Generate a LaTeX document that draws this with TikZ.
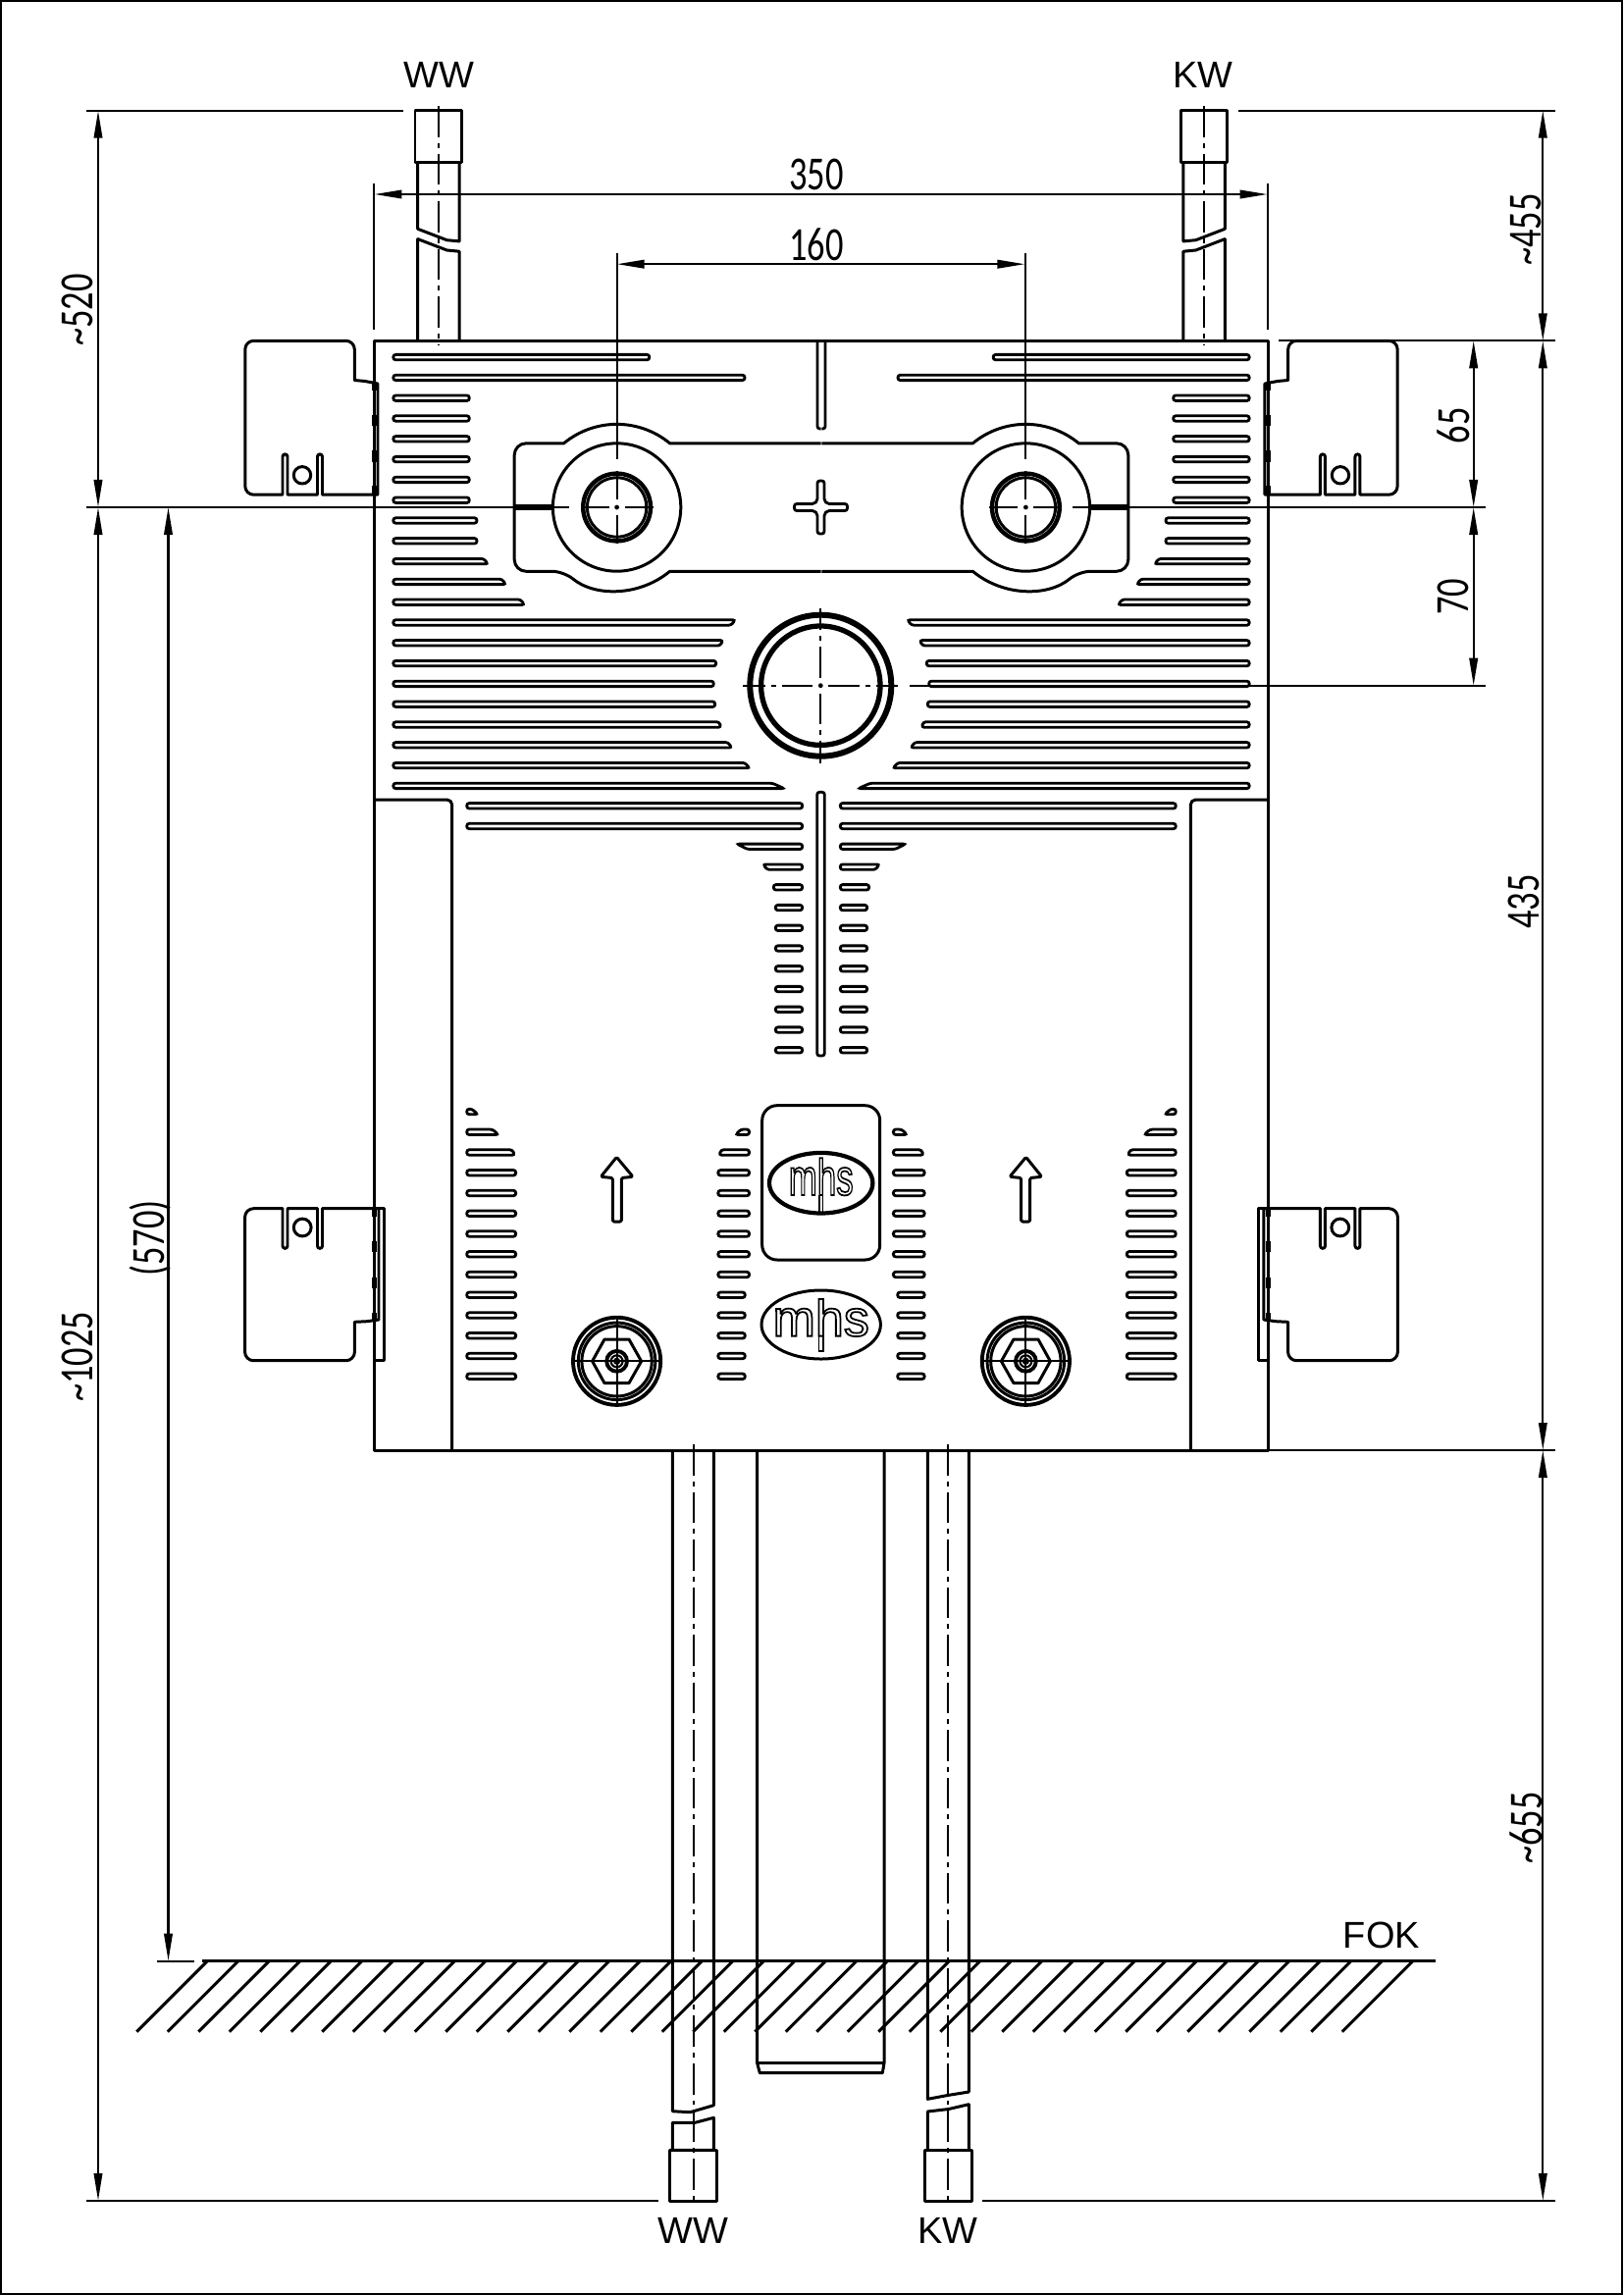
\documentclass[tikz,border=0pt]{standalone}
\usepackage{fontspec}
\usetikzlibrary{arrows.meta}
\setmainfont{Liberation Sans}
\newfontfamily\dimfont[FakeStretch=0.75]{Carlito}
\newfontfamily\logofont{Liberation Sans}
\tikzset{
  outl/.style={line width=0.85pt,line join=round},
  fine/.style={line width=0.6pt},
  slotline/.style={line width=0.8pt,rounded corners=0.7pt},
  centerln/.style={line width=0.6pt,dash pattern=on 9pt off 1.7pt on 1.4pt off 1.7pt},
  dimline/.style={fine,{Triangle[length=2.8mm,width=0.85mm]}-{Triangle[length=2.8mm,width=0.85mm]}},
  dimtext/.style={font=\dimfont\fontsize{13.8}{14}\selectfont,inner sep=0pt},
  dimtextv/.style={dimtext,rotate=90},
  conntext/.style={font=\fontsize{10.8}{12}\selectfont,inner sep=0pt},
  logotext/.style={font=\logofont\fontsize{14.8}{16}\selectfont,inner sep=0pt}
}
\newcommand{\slotb}[5]{\draw[slotline] (#1,#5-2.7) -- (#3,#5-2.7) -- (#4,#5+2.7) -- (#2,#5+2.7) -- cycle;}
\newcommand{\slotr}[3]{\slotb{#1}{#1}{#2}{#2}{#3}}
\newcommand{\crossln}[3]{
  \fill (#1,#2) circle (2.4);
  \draw[centerln] (#1+8,#2) -- (#1+#3,#2);
  \draw[centerln] (#1-8,#2) -- (#1-#3,#2);
  \draw[centerln] (#1,#2+8) -- (#1,#2+#3);
  \draw[centerln] (#1,#2-8) -- (#1,#2-#3);
}
\newcommand{\hollow}[1]{\special{pdf:code 1 Tr 0.5 w}#1\special{pdf:code 0 Tr}}
\newcommand{\halfplan}{
  % connection tube at the top
  \draw[outl] (423,112.7) rectangle (470.4,165.1);
  \draw[outl] (425.7,165.1) -- (425.7,233.3) -- (455.4,244.7) -- (468,245.9) -- (468,165.1);
  \draw[outl] (425.7,347.3) -- (425.7,243.6) -- (455.4,255) -- (468,256.2) -- (468,347.3);
  \draw[centerln] (447,108) -- (447,350.7);
  % upper bracket
  \draw[outl] (381.4,504.2) -- (328.5,504.2) [rounded corners=0.7pt] -- (328.5,462.9) -- (323.5,462.9) [sharp corners]
    -- (323.5,504.2) -- (293,504.2) [rounded corners=0.7pt] -- (293,462.9) -- (288,462.9) [sharp corners] -- (288,504.2)
    [rounded corners=2.5pt] -- (249.8,504.2) -- (249.8,347.3) -- (361.3,347.3) [sharp corners] -- (361.3,387.5)
    -- (372,388.5) -- (385,391) -- (385,504.2) -- (381.4,504.2);
  \draw[outl] (308,484.3) circle (8.7);
  \foreach \ya/\yb in {390/397.8,422.7/434,459/470.5,495.4/504.2}
    \draw[line width=1.2pt] (381.5,\ya) -- (381.5,\yb);
  % lower bracket
  \draw[outl] (386,1231.7) -- (328.5,1231.7) [rounded corners=0.7pt] -- (328.5,1272.3) -- (323.5,1272.3) [sharp corners]
    -- (323.5,1231.7) -- (293,1231.7) [rounded corners=0.7pt] -- (293,1272.3) -- (288,1272.3) [sharp corners] -- (288,1231.7)
    [rounded corners=2.5pt] -- (249.6,1231.7) -- (249.6,1386.7) -- (361.4,1386.7) [sharp corners] -- (361.4,1347.3)
    -- (374,1346.7) -- (386,1345) -- cycle;
  \draw[outl] (386,1231.7) -- (391.4,1231.7) -- (391.4,1386.7) -- (381.4,1386.7);
  \draw[outl] (308.2,1251) circle (8.9);
  \foreach \ya/\yb in {1231.7/1240,1265/1276,1301.7/1312.7,1338.3/1345}
    \draw[line width=1.2pt] (381.5,\ya) -- (381.5,\yb);
  % body outline
  \draw[outl] (836.5,347.3) -- (381.4,347.3) -- (381.4,1478) -- (836.5,1478);
  \draw[outl] (381.4,815) [rounded corners=1.5pt] -- (460.7,815) -- (460.7,1478);
  \draw[slotline] (833,347.3) -- (833,437) -- (836.5,437);
  % slots round the plate
  \foreach \i/\xt/\xb in {0/661.8/661.8,1/759/759,2/478.3/478.3,3/478.3/478.3,4/478.3/478.3,5/478.3/478.3,
    6/478.3/478.3,7/478.3/478.3,8/486/486,9/486/486,10/493/497.3,11/511.5/515.5,12/530.5/534.5,13/749.3/745,
    14/736.7/734,15/729.7/729.7,16/727.3/727.3,17/728.7/728.7,18/733/734.7,19/742/745.7,20/759/764,21/787/799.3}
    {\slotb{400.8}{400.8}{\xt}{\xb}{364.1+20.8*\i}}
  % slots in the lower part
  \slotr{475.7}{817.7}{821.3}
  \slotr{475.7}{817.7}{842}
  \slotb{751}{761.7}{817.7}{817.7}{862.8}
  \slotb{777.7}{781.7}{817.7}{817.7}{883.6}
  \slotr{788.3}{817.7}{904.3}
  \foreach \k in {5,...,12}
    {\slotr{790.3}{817.7}{821.3+20.75*\k}}
  \slotb{475.7}{475.7}{481}{487}{1133}
  \slotb{475.7}{475.7}{502}{507.9}{1153.75}
  \slotb{475.7}{475.7}{522}{524.6}{1174.5}
  \foreach \k in {3,...,13}
    {\slotr{475.7}{525.7}{1133+20.75*\k}}
  \slotb{755}{749.6}{763.6}{763.6}{1153.75}
  \slotb{735}{732.9}{763.6}{763.6}{1174.5}
  \foreach \k in {3,...,8}
    {\slotr{731.8}{763.6}{1133+20.75*\k}}
  \foreach \k in {9,...,13}
    {\slotr{731.8}{759.3}{1133+20.75*\k}}
  % plate with the connection
  \draw[outl] (836.5,451.8) -- (682.6,451.8) arc[start angle=-50.4,end angle=-129.6,radius=84.7]
    [rounded corners=3.4pt] -- (524.2,451.8) -- (524.2,582.3) -- (574.6,582.3) [sharp corners]
    arc[start angle=129.6,end angle=50.4,radius=84.7] -- (836.5,582.3);
  \draw[outl] (628.6,517) circle (65.2);
  \draw[line width=1.25pt] (628.6,517) circle (34.4);
  \draw[outl] (628.6,517) circle (30.2);
  \draw[line width=1.6pt] (524.2,517) -- (563.3,517);
  \crossln{628.6}{517}{37}
  \draw[fine] (628.6,258) -- (628.6,467.5);
  % arrow
  \draw[outl,rounded corners=0.4pt] (628.4,1179.3) -- (645,1199.3) -- (633.3,1200.5) -- (633.3,1245) -- (624.3,1245)
    -- (624.3,1200.5) -- (612.3,1199.3) -- cycle;
  % fitting
  \draw[line width=1.1pt] (628.6,1387.3) circle (44.6);
  \draw[outl] (628.6,1387.3) circle (39.3);
  \draw[outl] (628.6,1387.3) circle (35.7);
  \draw[outl] (603.6,1387.3) -- (616,1365) -- (641,1365) -- (653.6,1387.3) -- (641,1409.6) -- (616,1409.6) -- cycle;
  \draw[line width=1.1pt] (628.6,1387.3) circle (10.4);
  \draw[fine] (628.6,1387.3) circle (6);
  \draw[fine] (628.6,1387.3) circle (2.5);
  \draw[fine] (582.6,1387.3) -- (674.6,1387.3);
  \draw[fine] (628.6,1341.3) -- (628.6,1433.3);
}
\begin{document}
\begin{tikzpicture}[x=0.01cm,y=-0.01cm]
\useasboundingbox (0,0) rectangle (1654,2339);
\draw[fine] (1,1) rectangle (1653,2338);
\halfplan
\begin{scope}[xshift=16.73cm,xscale=-1]
\halfplan
\end{scope}
\draw[slotline] (832.7,807.3) rectangle (840.3,1076);
\draw[slotline,shift={(836.5,517)}] (-3.5,-27) -- (3.5,-27) -- (3.5,-11) .. controls (3.5,-6) and (6,-3.5) .. (11,-3.5)
  -- (27,-3.5) -- (27,3.5) -- (11,3.5) .. controls (6,3.5) and (3.5,6) .. (3.5,11) -- (3.5,27) -- (-3.5,27) -- (-3.5,11)
  .. controls (-3.5,6) and (-6,3.5) .. (-11,3.5) -- (-27,3.5) -- (-27,-3.5) -- (-11,-3.5)
  .. controls (-6,-3.5) and (-3.5,-6) .. (-3.5,-11) -- cycle;
\draw[line width=1.7pt] (836.3,698.7) circle (72);
\draw[line width=1.5pt] (836.3,698.7) circle (60.7);
\crossln{836.3}{698.7}{79}
% logo plates
\draw[outl,rounded corners=4.3pt] (776.7,1126.7) rectangle (896.7,1284);
\draw[line width=1.2pt] (836.7,1205.7) ellipse (52.7 and 30.8);
\draw[outl] (836.7,1350) ellipse (60.7 and 35);
\node[logotext,xscale=0.67] (logoa) at (836.7,1199.3) {\hollow{mhs}};
\node[logotext] (logob) at (836.7,1343) {\hollow{mhs}};
\draw[line width=0.5pt] (835,1218) -- (835,1236) -- (838.5,1236) -- (838.5,1218);
\draw[line width=0.5pt] (834.5,1362) -- (834.5,1377) -- (839.2,1377) -- (839.2,1362);
% lower tubes and sleeve
\draw[outl] (685.3,1478) -- (685.3,2151.7) -- (703.3,2152.7) -- (727.3,2145.7) -- (727.3,1478);
\draw[outl] (682.7,2191.3) -- (685.3,2191.3) -- (685.3,2163.3) -- (708.3,2163.3) -- (727.3,2158.3) -- (727.3,2191.3) -- cycle;
\draw[outl] (682.7,2191.3) rectangle (730.3,2243.3);
\draw[centerln] (706.7,1472) -- (706.7,2248);
\draw[outl] (945.3,1478) -- (945.3,2139.3) -- (966.7,2135.3) -- (987.3,2132) -- (987.3,1478);
\draw[outl] (945.3,2191.3) -- (945.3,2152) -- (966.7,2149.5) -- (987.3,2144.7) -- (987.3,2191.3);
\draw[outl] (942.7,2191.3) rectangle (990,2243.3);
\draw[centerln] (966.3,1472) -- (966.3,2248);
\draw[outl] (771.7,1478) -- (771.7,2102.7) -- (774.3,2112.7) -- (899.3,2112.7) -- (901,2102.7) -- (901,1478);
\draw[outl] (771.7,2102.7) -- (901,2102.7);
% floor
\draw[outl] (206,1998.6) -- (1463,1998.6);
\foreach \k in {0,...,39}
  \draw[outl] ({139.3+31.5*\k},2070.7) -- ++(72,-72);
\draw[fine] (160,1998.6) -- (198,1998.6);
% extension lines
\draw[fine] (88,112.7) -- (411,112.7);
\draw[fine] (1262,112.7) -- (1585,112.7);
\draw[fine] (1303,347.3) -- (1585,347.3);
\draw[fine] (88,517) -- (580,517);
\draw[fine] (1093,517) -- (1514,517);
\draw[fine] (927,698.7) -- (1514,698.7);
\draw[fine] (1291.6,1478) -- (1585,1478);
\draw[fine] (88,2243) -- (671,2243);
\draw[fine] (1001,2243) -- (1585,2243);
\draw[fine] (381.4,187.3) -- (381.4,335.8);
\draw[fine] (1291.6,187.3) -- (1291.6,335.8);
% dimensions
\coordinate (dl) at (100,112.7);
\coordinate (dm) at (100,517);
\coordinate (db) at (100,2243);
\coordinate (el) at (171.5,517);
\coordinate (ef) at (171.5,1998.6);
\coordinate (ra) at (1572.3,112.7);
\coordinate (rb) at (1572.3,347.3);
\coordinate (rc) at (1572.3,1478);
\coordinate (rd) at (1572.3,2243);
\coordinate (sa) at (1501.7,347.3);
\coordinate (sb) at (1501.7,517);
\coordinate (sc) at (1501.7,698.7);
\coordinate (ta) at (381.4,198);
\coordinate (tb) at (1291.6,198);
\coordinate (ua) at (628.6,269.2);
\coordinate (ub) at (1044.4,269.2);
\draw[dimline] (dl) -- (dm);
\draw[dimline] (dm) -- (db);
\draw[dimline] (el) -- (ef);
\draw[dimline] (ra) -- (rb);
\draw[dimline] (rb) -- (rc);
\draw[dimline] (rc) -- (rd);
\draw[dimline] (sa) -- (sb);
\draw[dimline] (sb) -- (sc);
\draw[dimline] (ta) -- (tb);
\draw[dimline] (ua) -- (ub);
\node[dimtext] (lbla) at (832,178) {350};
\node[dimtext] (lblb) at (832,249) {160};
\node[dimtextv] (lblc) at (79,316) {\textasciitilde 520};
\node[dimtextv] (lbld) at (79,1383) {\textasciitilde 1025};
\node[dimtextv] (lble) at (153,1262) {(570)};
\node[dimtextv] (lblf) at (1555,234) {\textasciitilde 455};
\node[dimtextv] (lblg) at (1553,919) {435};
\node[dimtextv] (lblh) at (1555,1863) {\textasciitilde 655};
\node[dimtextv] (lbli) at (1481,434) {65};
\node[dimtextv] (lblj) at (1481,608) {70};
\node[conntext] (wwtop) at (447,76) {WW};
\node[conntext] (kwtop) at (1226,76) {KW};
\node[conntext] (wwbot) at (706,2273) {WW};
\node[conntext] (kwbot) at (966,2273) {KW};
\node[conntext] (fok) at (1408,1972) {FOK};
\end{tikzpicture}
\end{document}
